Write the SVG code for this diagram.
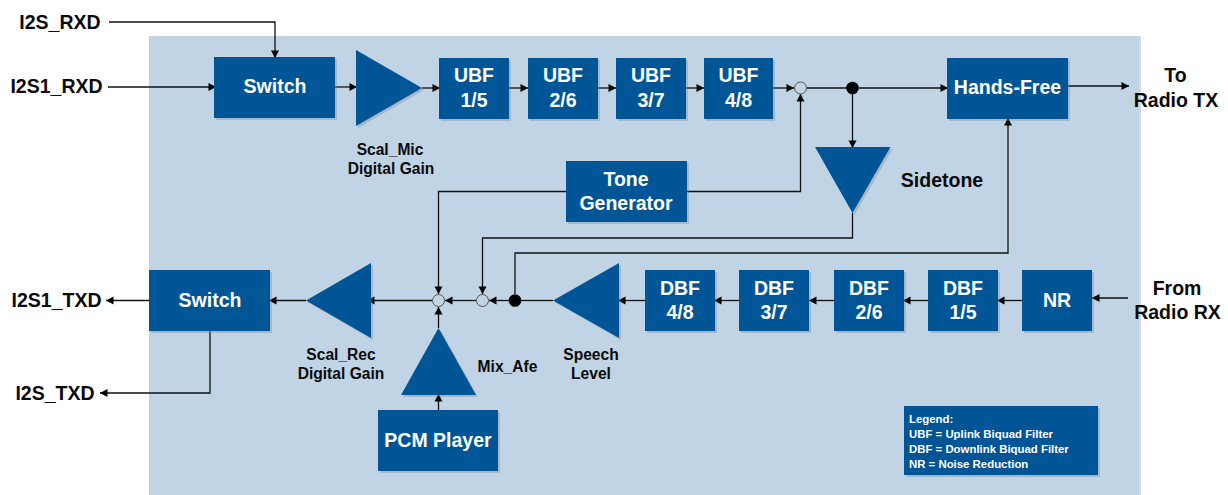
<svg xmlns="http://www.w3.org/2000/svg" width="1228" height="495" viewBox="0 0 1228 495">
<style>
text{font-family:"Liberation Sans",Arial,sans-serif;font-weight:700;text-anchor:middle;fill:#0a0a0a}
.b{fill:#005596;filter:drop-shadow(2px 2px 0 rgba(120,130,140,.35))}
.w{fill:#fff;font-size:19.5px}
.l{font-size:19.5px}
.s{font-size:15.6px}
.g{fill:#fff;font-size:11.4px;text-anchor:start}
.c{fill:none;stroke:#111;stroke-width:1.3}
.o{fill:#c0d4e5;stroke:#555;stroke-width:1}
.d{fill:#000}
</style>
<defs>
<marker id="a" markerUnits="userSpaceOnUse" markerWidth="9" markerHeight="9" refX="8" refY="4.5" orient="auto"><path d="M0.5 0.5L8 4.5L0.5 8.5z" fill="#000"/></marker>
</defs>
<rect id="background" x="149" y="36" width="990" height="459" fill="#c0d4e5" style="filter:drop-shadow(2px 0 0 #d8d8d8)"/>
<g id="connectors" class="c">
<path marker-end="url(#a)" d="M109 22H275V58"/>
<path marker-end="url(#a)" d="M108 87H216"/>
<path marker-end="url(#a)" d="M335 87H357"/>
<path marker-end="url(#a)" d="M422 88H440"/>
<path marker-end="url(#a)" d="M509 88H528"/>
<path marker-end="url(#a)" d="M598 88H616"/>
<path marker-end="url(#a)" d="M686 88H704"/>
<path marker-end="url(#a)" d="M773 88H794"/>
<path d="M807 88H847"/>
<path marker-end="url(#a)" d="M859 88H948"/>
<path marker-end="url(#a)" d="M852.500 94V148"/>
<path marker-end="url(#a)" d="M1068 86H1129"/>
<path marker-end="url(#a)" d="M687 191.500H800.500V94"/>
<path marker-end="url(#a)" d="M566 191.500H438.500V294"/>
<path marker-end="url(#a)" d="M852.500 213V238H482.500V294"/>
<path marker-end="url(#a)" d="M515 294V253H1008V118"/>
<path marker-end="url(#a)" d="M1128 298H1092"/>
<path marker-end="url(#a)" d="M1022 300.500H997"/>
<path marker-end="url(#a)" d="M928 300.500H903"/>
<path marker-end="url(#a)" d="M834 300.500H809"/>
<path marker-end="url(#a)" d="M739 300.500H714"/>
<path marker-end="url(#a)" d="M645 300.500H618"/>
<path d="M553 300.500H521"/>
<path marker-end="url(#a)" d="M509 300.500H489"/>
<path marker-end="url(#a)" d="M476 300.500H445"/>
<path marker-end="url(#a)" d="M432 300.500H367"/>
<path marker-end="url(#a)" d="M306 300.500H269"/>
<path marker-end="url(#a)" d="M150 300.500H106"/>
<path marker-end="url(#a)" d="M210 331V393H100"/>
<path marker-end="url(#a)" d="M438.500 328V307"/>
<path marker-end="url(#a)" d="M438.500 410V394"/>
</g>
<g id="switch-top"><rect class="b" x="214" y="57" width="121" height="61"/><text class="w" x="275" y="93">Switch</text></g>
<g id="scal-mic"><polygon class="b" points="356,50 422,88 356,126"/><text class="s" x="390" y="155">Scal_Mic</text><text class="s" x="391" y="174">Digital Gain</text></g>
<g id="ubf-1"><rect class="b" x="439" y="58" width="70" height="61"/><text class="w" x="474" y="82">UBF</text><text class="w" x="474" y="107">1/5</text></g>
<g id="ubf-2"><rect class="b" x="528" y="58" width="70" height="61"/><text class="w" x="563" y="82">UBF</text><text class="w" x="563" y="107">2/6</text></g>
<g id="ubf-3"><rect class="b" x="616" y="58" width="70" height="61"/><text class="w" x="651" y="82">UBF</text><text class="w" x="651" y="107">3/7</text></g>
<g id="ubf-4"><rect class="b" x="704" y="58" width="69" height="61"/><text class="w" x="738.500" y="82">UBF</text><text class="w" x="738.500" y="107">4/8</text></g>
<g id="sum-top"><circle class="o" cx="800.500" cy="88" r="6"/></g>
<g id="junction-top"><circle class="d" cx="852.500" cy="88" r="6.300"/></g>
<g id="hands-free"><rect class="b" x="947" y="58" width="121" height="61"/><text class="w" x="1007.500" y="94">Hands-Free</text></g>
<g id="sidetone"><polygon class="b" points="815,147 890.500,147 852.500,213"/><text class="l" x="942" y="187">Sidetone</text></g>
<g id="tone-generator"><rect class="b" x="566" y="161" width="121" height="61"/><text class="w" x="626" y="186">Tone</text><text class="w" x="626" y="210">Generator</text></g>
<g id="switch-bottom"><rect class="b" x="149" y="270" width="121" height="61"/><text class="w" x="210" y="307">Switch</text></g>
<g id="scal-rec"><polygon class="b" points="306,300.500 371,263 371,338"/><text class="s" x="341" y="360">Scal_Rec</text><text class="s" x="341" y="379">Digital Gain</text></g>
<g id="sum-mix"><circle class="o" cx="438.500" cy="300.500" r="6"/></g>
<g id="sum-side"><circle class="o" cx="482.500" cy="300.500" r="6"/></g>
<g id="junction-bottom"><circle class="d" cx="515" cy="300.500" r="6.300"/></g>
<g id="mix-afe"><polygon class="b" points="438.500,328 401,395 476,395"/><text class="s" x="507.500" y="372">Mix_Afe</text></g>
<g id="pcm-player"><rect class="b" x="378" y="410" width="120" height="61"/><text class="w" x="438" y="447">PCM Player</text></g>
<g id="speech-level"><polygon class="b" points="553,300.500 619,263 619,338"/><text class="s" x="591" y="360">Speech</text><text class="s" x="591" y="379">Level</text></g>
<g id="dbf-4"><rect class="b" x="645" y="270" width="70" height="61"/><text class="w" x="680" y="295">DBF</text><text class="w" x="680" y="319">4/8</text></g>
<g id="dbf-3"><rect class="b" x="739" y="270" width="70" height="61"/><text class="w" x="774" y="295">DBF</text><text class="w" x="774" y="319">3/7</text></g>
<g id="dbf-2"><rect class="b" x="834" y="270" width="70" height="61"/><text class="w" x="869" y="295">DBF</text><text class="w" x="869" y="319">2/6</text></g>
<g id="dbf-1"><rect class="b" x="928" y="270" width="70" height="61"/><text class="w" x="963" y="295">DBF</text><text class="w" x="963" y="319">1/5</text></g>
<g id="nr"><rect class="b" x="1022" y="270" width="70" height="61"/><text class="w" x="1057" y="307">NR</text></g>
<g id="legend"><rect class="b" x="904" y="406" width="194" height="69"/><text class="g" x="909" y="423">Legend:</text><text class="g" x="909" y="438">UBF = Uplink Biquad Filter</text><text class="g" x="909" y="453">DBF = Downlink Biquad Filter</text><text class="g" x="909" y="468">NR = Noise Reduction</text></g>
<g id="i2s-rxd"><text class="l" x="60" y="29">I2S_RXD</text></g>
<g id="i2s1-rxd"><text class="l" x="56.500" y="93">I2S1_RXD</text></g>
<g id="i2s1-txd"><text class="l" x="56.500" y="307">I2S1_TXD</text></g>
<g id="i2s-txd"><text class="l" x="55" y="400">I2S_TXD</text></g>
<g id="radio-tx"><text class="l" x="1175.500" y="82">To</text><text class="l" x="1176" y="107">Radio TX</text></g>
<g id="radio-rx"><text class="l" x="1177" y="295">From</text><text class="l" x="1177.500" y="319">Radio RX</text></g>
</svg>
